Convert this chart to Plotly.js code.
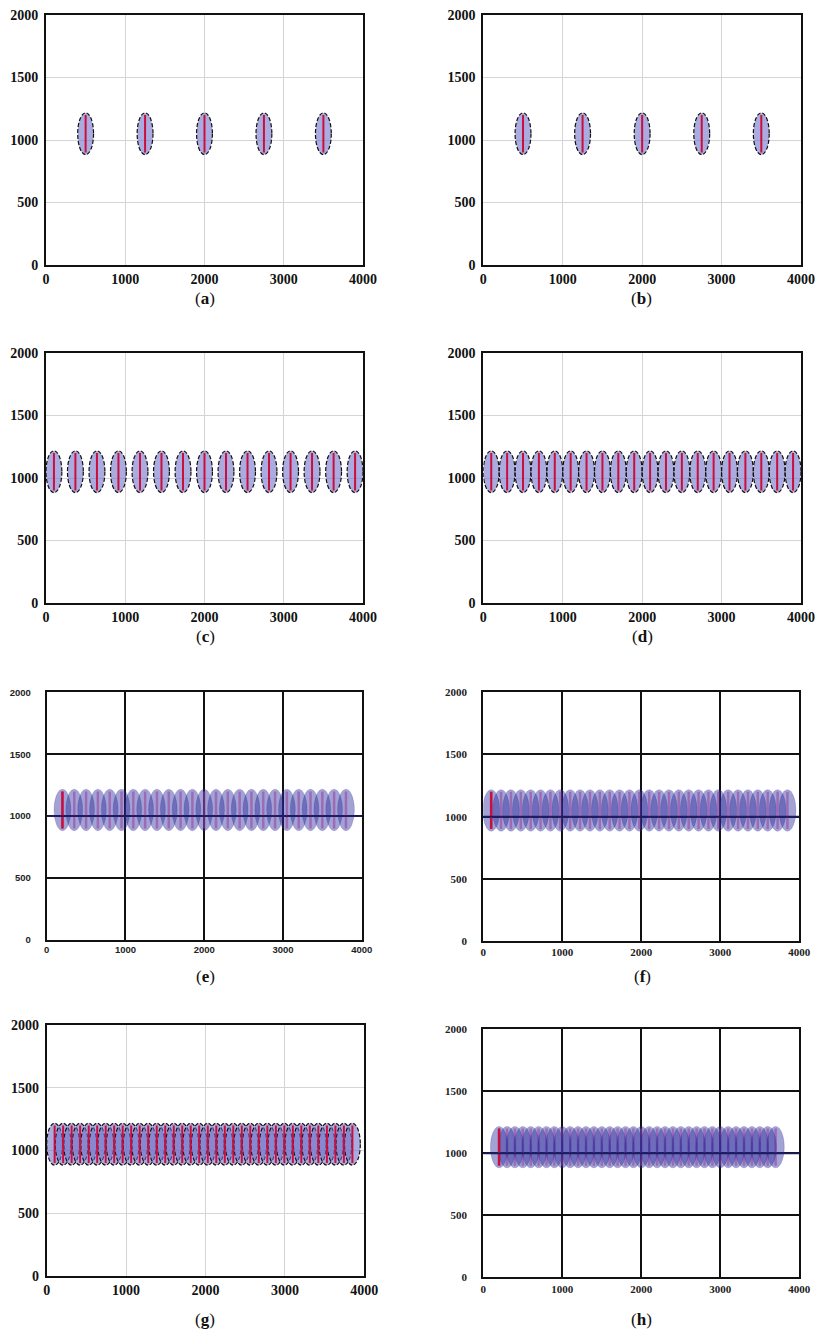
<!DOCTYPE html>
<html>
<head>
<meta charset="utf-8">
<script src="https://cdn.plot.ly/plotly-3.0.1.min.js"></script>
<style>body{margin:0;background:#fff}</style>
</head>
<body>
<div id="chart" style="width:817px;height:1339px"></div>
<script>
// ---------- data ----------
const panelLabels = ['a', 'b', 'c', 'd', 'e', 'f', 'g', 'h'];
const xTickVals = [0, 1000, 2000, 3000, 4000];
const yTickVals = [0, 500, 1000, 1500, 2000];

const centersA = [500, 1250, 2000, 2750, 3500];
const centersB = [500, 1250, 2000, 2750, 3500];
const centersC = [100, 371, 643, 914, 1186, 1457, 1729, 2000, 2271, 2543, 2814, 3086, 3357, 3629, 3900];
const centersD = [100, 300, 500, 700, 900, 1100, 1300, 1500, 1700, 1900, 2100, 2300, 2500, 2700, 2900, 3100, 3300, 3500, 3700, 3900];
const centersE = [200, 350, 500, 650, 800, 950, 1100, 1250, 1400, 1550, 1700, 1850, 2000, 2150, 2300, 2450, 2600, 2750, 2900, 3050, 3200, 3350, 3500, 3650, 3800];
const centersF = [100, 225, 350, 475, 600, 725, 850, 975, 1100, 1225, 1350, 1475, 1600, 1725, 1850, 1975, 2100, 2225, 2350, 2475, 2600, 2725, 2850, 2975, 3100, 3225, 3350, 3475, 3600, 3725, 3850];
const centersG = [100, 207, 314, 421, 529, 636, 743, 850, 957, 1064, 1171, 1279, 1386, 1493, 1600, 1707, 1814, 1921, 2029, 2136, 2243, 2350, 2457, 2564, 2671, 2779, 2886, 2993, 3100, 3207, 3314, 3421, 3529, 3636, 3743, 3850];
const centersH = [200, 300, 400, 500, 600, 700, 800, 900, 1000, 1100, 1200, 1300, 1400, 1500, 1600, 1700, 1800, 1900, 2000, 2100, 2200, 2300, 2400, 2500, 2600, 2700, 2800, 2900, 3000, 3100, 3200, 3300, 3400, 3500, 3600, 3700];

const ellipseCenterY = 1050;
const ellipseRadiusY = 167;
const ellipseRadiusX = [100, 100, 100, 100, 107, 107, 100, 110];
const redLineLow = 900;
const redLineHigh = 1200;
const baseLineY = 1000;

const allCenters = [centersA, centersB, centersC, centersD, centersE, centersF, centersG, centersH];

// ---------- layout geometry (pixels in the 817x1339 page) ----------
const W = 817, H = 1339;
const boxes = [
  [46, 363, 15, 265], [483.3, 801, 15, 265],
  [46, 363, 353, 603], [483.3, 801, 353, 603],
  [46.7, 361.7, 692.3, 940], [483.3, 799.3, 692.3, 941],
  [46.7, 364.3, 1025, 1276], [483.3, 799.3, 1029.3, 1277.3]
];
const captionPos = [[205, 298], [641, 298], [205, 636], [642, 636], [205, 976], [642, 976], [205, 1319], [641, 1319]];
const styles = ['soft', 'soft', 'soft', 'soft', 'hardSans', 'hardSerif', 'soft', 'hardSerif'];

const traces = [];
const shapes = [];
const annotations = [];
const layout = {
  width: W, height: H,
  margin: {l: 0, r: 0, t: 0, b: 0},
  paper_bgcolor: '#fff', plot_bgcolor: '#fff',
  showlegend: false,
  shapes: shapes, annotations: annotations
};

for (let i = 0; i < 8; i++) {
  const n = i === 0 ? '' : String(i + 1);
  const xa = 'x' + n, ya = 'y' + n;
  const [x0, x1, y0, y1] = boxes[i];
  const st = styles[i];
  const soft = st === 'soft';
  const tickFont = soft
    ? {family: 'Liberation Serif, Times New Roman, serif', size: 14, color: '#111', weight: 'bold'}
    : (st === 'hardSans'
      ? {family: 'Liberation Sans, Arial, sans-serif', size: 9.5, color: '#222', weight: 'bold'}
      : {family: 'Liberation Serif, Times New Roman, serif', size: 11, color: '#222', weight: 'bold'});
  const common = {
    showgrid: true,
    gridcolor: soft ? '#d4d4d4' : '#111',
    gridwidth: soft ? 1 : 2,
    zeroline: false,
    showline: true, mirror: true,
    linecolor: '#111', linewidth: 2,
    ticks: '',
    tickfont: tickFont,
    fixedrange: true
  };
  layout['xaxis' + n] = Object.assign({}, common, {
    domain: [x0 / W, x1 / W], anchor: ya, range: [0, 4000],
    tickvals: xTickVals, ticktext: xTickVals.map(String),
    ticklabelstandoff: 0
  });
  layout['yaxis' + n] = Object.assign({}, common, {
    domain: [1 - y1 / H, 1 - y0 / H], anchor: xa, range: [0, 2000],
    tickvals: yTickVals, ticktext: yTickVals.map(String),
    ticklabelstandoff: soft ? 3 : 12
  });

  const centers = allCenters[i];
  const rx = ellipseRadiusX[i];

  // red lines as a trace
  const lx = [], ly = [];
  centers.forEach(c => { lx.push(c, c, null); ly.push(redLineLow, redLineHigh, null); });
  traces.push({
    type: 'scatter', mode: 'lines', x: lx, y: ly, xaxis: xa, yaxis: ya,
    line: {color: soft ? '#c8103f' : 'rgba(235,80,160,0.55)', width: soft ? 2 : 2.5},
    hoverinfo: 'skip'
  });

  // ellipses
  centers.forEach(c => {
    if (soft) {
      shapes.push({
        type: 'circle', xref: xa, yref: ya, layer: 'between',
        x0: c - rx, x1: c + rx, y0: ellipseCenterY - ellipseRadiusY, y1: ellipseCenterY + ellipseRadiusY,
        fillcolor: 'rgba(110,110,200,0.58)',
        line: {color: '#111', width: 1.2, dash: '4px,2px'}
      });
    } else {
      shapes.push({
        type: 'circle', xref: xa, yref: ya, layer: 'above',
        x0: c - rx, x1: c + rx, y0: ellipseCenterY - ellipseRadiusY, y1: ellipseCenterY + ellipseRadiusY,
        fillcolor: 'rgba(40,40,155,0.43)',
        line: {color: 'rgba(60,60,160,0.35)', width: 0.6}
      });
    }
  });

  if (!soft) {
    shapes.push({
      type: 'line', xref: xa, yref: ya, layer: 'above',
      x0: centers[0], x1: centers[0], y0: redLineLow, y1: redLineHigh,
      line: {color: '#c8103f', width: 2.5}
    });
    shapes.push({
      type: 'line', xref: xa, yref: ya, layer: 'above',
      x0: xTickVals[0], x1: xTickVals[xTickVals.length - 1], y0: baseLineY, y1: baseLineY,
      line: {color: '#1c1c5e', width: 1.8}
    });
  }

  annotations.push({
    xref: 'paper', yref: 'paper',
    x: captionPos[i][0] / W, y: 1 - captionPos[i][1] / H,
    xanchor: 'center', yanchor: 'middle', showarrow: false,
    text: '(<b>' + panelLabels[i] + '</b>)',
    font: {family: 'Liberation Serif, Times New Roman, serif', size: 17, color: '#111'}
  });
}

Plotly.newPlot('chart', traces, layout, {staticPlot: true, displayModeBar: false});
</script>
</body>
</html>
